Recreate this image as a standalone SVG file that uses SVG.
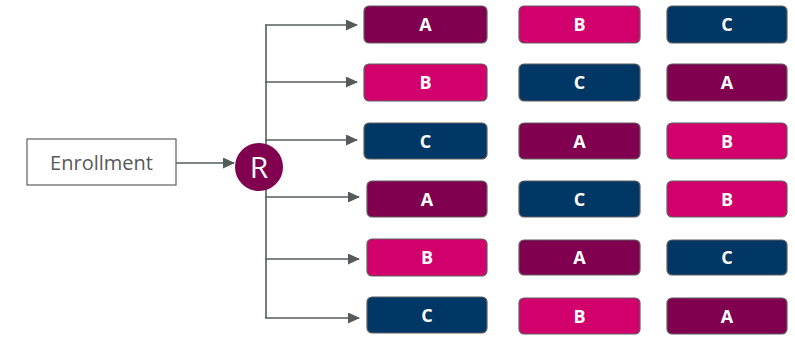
<svg xmlns="http://www.w3.org/2000/svg" width="795" height="337" viewBox="0 0 795 337">
  <defs>
    <style>
      .arm { fill: #80004f; }
      .brm { fill: #d1006c; }
      .crm { fill: #003764; }
      .box { stroke: #5f5f5f; stroke-width: 1.2; }
      .lbl { font-family: "Open Sans", "Liberation Sans", sans-serif; font-weight: bold; font-size: 18px; fill: #ffffff; text-anchor: middle; }
      .wire { stroke: #555b5b; stroke-width: 1.6; fill: none; }
    </style>
    <marker id="head" markerWidth="12" markerHeight="11" refX="11" refY="5.5" orient="auto" markerUnits="userSpaceOnUse">
      <path d="M0,0 L12,5.5 L0,11 Z" fill="#555b5b"/>
    </marker>
  </defs>

  <rect width="795" height="337" fill="#ffffff"/>

  <!-- connectors -->
  <g id="connectors">
    <line class="wire" x1="176" y1="163" x2="234" y2="163" marker-end="url(#head)"/>
    <line class="wire" x1="266" y1="25" x2="266" y2="318"/>
    <line class="wire" x1="265" y1="25" x2="357" y2="25" marker-end="url(#head)"/>
    <line class="wire" x1="265" y1="82" x2="357" y2="82" marker-end="url(#head)"/>
    <line class="wire" x1="265" y1="140" x2="357" y2="140" marker-end="url(#head)"/>
    <line class="wire" x1="265" y1="197" x2="359" y2="197" marker-end="url(#head)"/>
    <line class="wire" x1="265" y1="259" x2="359" y2="259" marker-end="url(#head)"/>
    <line class="wire" x1="265" y1="318" x2="359" y2="318" marker-end="url(#head)"/>
  </g>

  <g id="enrollment">
    <rect x="27" y="139" width="149" height="46" fill="#ffffff" stroke="#5f5f5f" stroke-width="1.2"/>
    <text x="101.5" y="170" font-family="Open Sans, Liberation Sans, sans-serif" font-size="20" fill="#595959" text-anchor="middle">Enrollment</text>
  </g>

  <g id="randomize">
    <circle cx="259" cy="167" r="24" fill="#80004f"/>
    <text x="259" y="178" font-family="Open Sans, Liberation Sans, sans-serif" font-size="30" fill="#ffffff" text-anchor="middle">R</text>
  </g>

  <g id="seq1">
    <rect class="box arm" x="364" y="6" width="123" height="37" rx="5"/><text class="lbl" x="425.5" y="31">A</text>
    <rect class="box brm" x="519" y="6" width="121" height="37" rx="5"/><text class="lbl" x="579.5" y="31">B</text>
    <rect class="box crm" x="667" y="6" width="120" height="37" rx="5"/><text class="lbl" x="727" y="31">C</text>
  </g>
  <g id="seq2">
    <rect class="box brm" x="364" y="64" width="123" height="37" rx="5"/><text class="lbl" x="425.5" y="89">B</text>
    <rect class="box crm" x="519" y="64" width="121" height="37" rx="5"/><text class="lbl" x="579.5" y="89">C</text>
    <rect class="box arm" x="667" y="64" width="120" height="37" rx="5"/><text class="lbl" x="727" y="89">A</text>
  </g>
  <g id="seq3">
    <rect class="box crm" x="364" y="123" width="123" height="36" rx="5"/><text class="lbl" x="425.5" y="147.5">C</text>
    <rect class="box arm" x="519" y="123" width="121" height="36" rx="5"/><text class="lbl" x="579.5" y="147.5">A</text>
    <rect class="box brm" x="667" y="123" width="120" height="36" rx="5"/><text class="lbl" x="727" y="147.5">B</text>
  </g>
  <g id="seq4">
    <rect class="box arm" x="367" y="181" width="120" height="36" rx="5"/><text class="lbl" x="427" y="205.5">A</text>
    <rect class="box crm" x="519" y="181" width="121" height="36" rx="5"/><text class="lbl" x="579.5" y="205.5">C</text>
    <rect class="box brm" x="667" y="181" width="120" height="36" rx="5"/><text class="lbl" x="727" y="205.5">B</text>
  </g>
  <g id="seq5">
    <rect class="box brm" x="367" y="239" width="120" height="37" rx="5"/><text class="lbl" x="427" y="264">B</text>
    <rect class="box arm" x="519" y="240" width="121" height="35" rx="5"/><text class="lbl" x="579.5" y="264">A</text>
    <rect class="box crm" x="667" y="240" width="120" height="35" rx="5"/><text class="lbl" x="727" y="264">C</text>
  </g>
  <g id="seq6">
    <rect class="box crm" x="367" y="297" width="120" height="36" rx="5"/><text class="lbl" x="427" y="321.5">C</text>
    <rect class="box brm" x="519" y="298" width="121" height="36" rx="5"/><text class="lbl" x="579.5" y="322.5">B</text>
    <rect class="box arm" x="667" y="298" width="120" height="36" rx="5"/><text class="lbl" x="727" y="322.5">A</text>
  </g>
</svg>
